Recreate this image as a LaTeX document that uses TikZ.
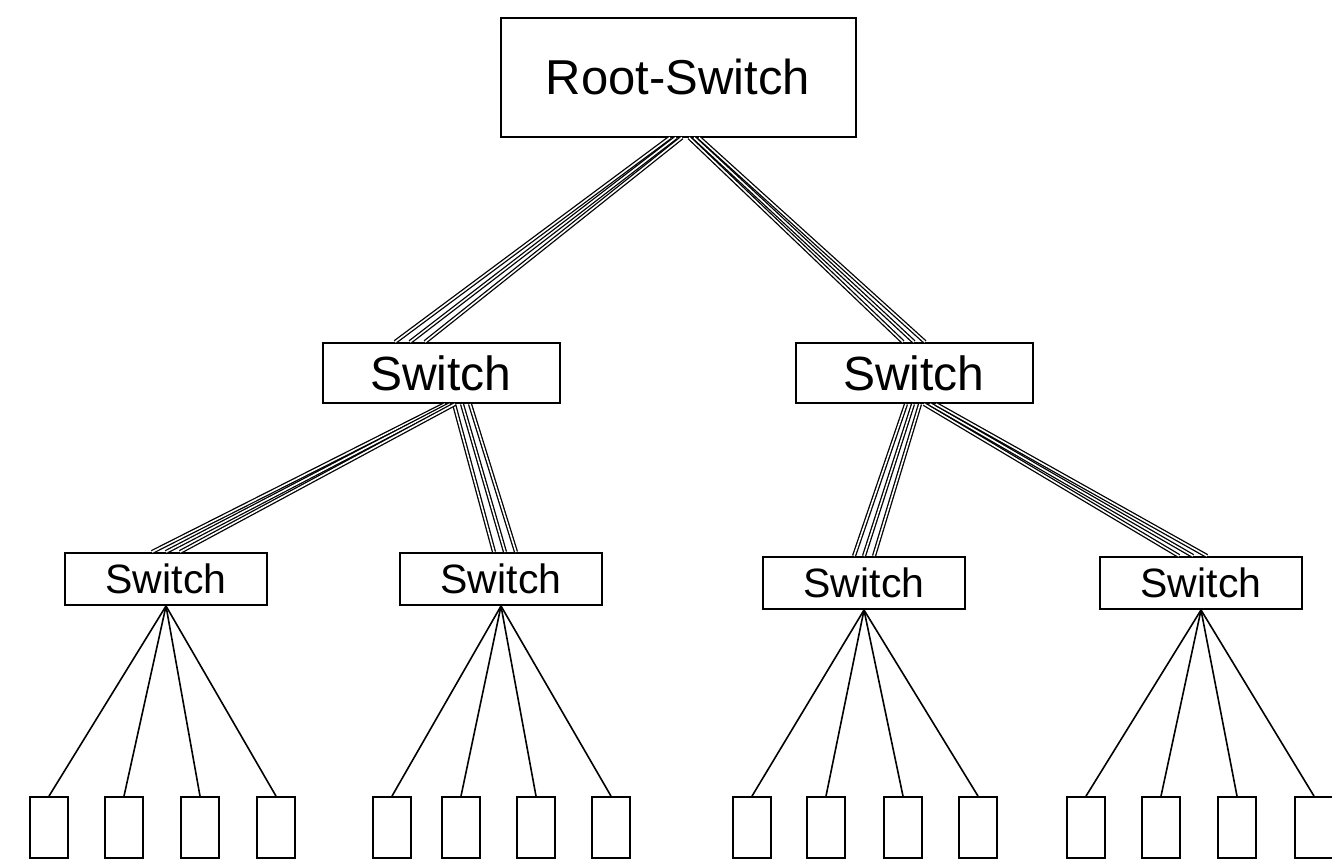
\documentclass[tikz,border=0pt]{standalone}
\usepackage{fontspec}
\setmainfont{Liberation Sans}
\usetikzlibrary{positioning}
\tikzset{
  rootbox/.style={rectangle, draw=black, line width=1pt, fill=white,
                  minimum width=177.5pt, minimum height=59.5pt,
                  font=\fontsize{24.5}{29}\selectfont},
  midbox/.style={rectangle, draw=black, line width=1pt, fill=white,
                 minimum width=118.5pt, minimum height=30pt,
                 font=\fontsize{24}{28}\selectfont},
  lowbox/.style={rectangle, draw=black, line width=1pt, fill=white,
                 minimum width=101pt, minimum height=26pt,
                 font=\fontsize{20.5}{24}\selectfont},
  hostbox/.style={rectangle, draw=black, line width=0.9pt, fill=white,
                  minimum width=19pt, minimum height=30.5pt, inner sep=0pt},
  trunk/.style={draw=black, line width=0.65pt, double=white, double distance=0.8pt},
  wire/.style={draw=black, line width=0.8pt},
}
\begin{document}
\begin{tikzpicture}[x=0.5pt, y=-0.5pt]
    \useasboundingbox (0,0) rectangle (1332,863);
    %% Ebene 1 und 2: Switches
    \node[rootbox] (root) at (678,77) {Root-Switch};
    \node[midbox] (sL) at (441,373) {Switch};
    \node[midbox] (sR) at (914,373) {Switch};
    \node[lowbox] (s1) at (166,579) {Switch};
    \node[lowbox] (s2) at (501,579) {Switch};
    \node[lowbox] (s3) at (864,583) {Switch};
    \node[lowbox] (s4) at (1201,583) {Switch};

    %% Ebene 3: Endgeraete
    \foreach \x [count=\n] in {49,124,200,276}
      \node[hostbox] (a\n) at (\x,827.5) {};
    \foreach \x [count=\n] in {392,461,536,611}
      \node[hostbox] (b\n) at (\x,827.5) {};
    \foreach \x [count=\n] in {752,826,903,978}
      \node[hostbox] (c\n) at (\x,827.5) {};
    \foreach \x [count=\n] in {1086,1161,1237,1314}
      \node[hostbox] (d\n) at (\x,827.5) {};

    %% Buendel zwischen den Switches
    \foreach \i in {-1,0,1} {
      \draw[trunk] ([xshift=-1pt+\i*3pt]root.south) -- ([xshift=-15.5pt+\i*7.5pt]sL.north);
      \draw[trunk] ([xshift=8pt+\i*2.5pt]root.south) -- ([xshift=0pt+\i*5.5pt]sR.north);
      \draw[trunk] ([xshift=4.5pt+\i*2.5pt]sL.south) -- ([xshift=0pt+\i*7pt]s1.north);
      \draw[trunk] ([xshift=10.5pt+\i*4pt]sL.south) -- ([xshift=2pt+\i*5.5pt]s2.north);
      \draw[trunk] ([xshift=-0.5pt+\i*3.5pt]sR.south) -- ([xshift=0pt+\i*5pt]s3.north);
      \draw[trunk] ([xshift=8pt+\i*3pt]sR.south) -- ([xshift=-4pt+\i*7pt]s4.north);
    }

    %% Anschluesse der Endgeraete
    \foreach \n in {1,...,4} {
      \draw[wire] (s1.south) -- (a\n.north);
      \draw[wire] (s2.south) -- (b\n.north);
      \draw[wire] (s3.south) -- (c\n.north);
      \draw[wire] (s4.south) -- (d\n.north);
    }
\end{tikzpicture}
\end{document}
